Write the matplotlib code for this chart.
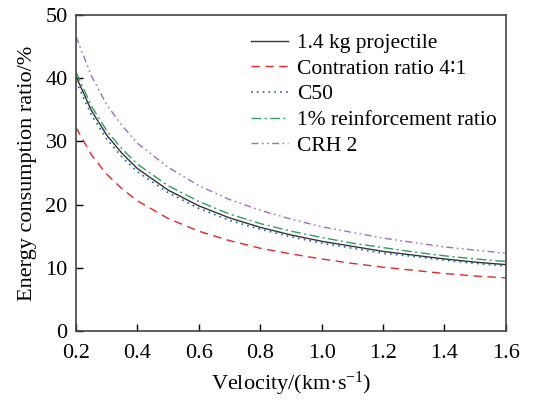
import matplotlib
matplotlib.use("Agg")
import matplotlib.pyplot as plt

plt.rcParams["font.family"] = ["Liberation Serif", "DejaVu Sans", "Noto Sans CJK SC"]
plt.rcParams["mathtext.fontset"] = "custom"
plt.rcParams["mathtext.rm"] = "Liberation Serif"
plt.rcParams["mathtext.it"] = "Liberation Serif:italic"

# velocity (km/s) and energy consumption ratio (%)
velocity = [0.2, 0.25, 0.3, 0.35, 0.4, 0.5, 0.6, 0.7, 0.8, 0.9,
            1.0, 1.1, 1.2, 1.3, 1.4, 1.5, 1.6]
base_14kg = [40.3, 34.9, 31.0, 28.1, 25.7, 22.3, 19.8, 17.9, 16.4, 15.2,
             14.2, 13.4, 12.6, 12.0, 11.4, 10.9, 10.5]
contraction_41 = [32.2, 27.9, 24.8, 22.5, 20.6, 17.8, 15.8, 14.3, 13.1, 12.2,
                  11.4, 10.7, 10.1, 9.6, 9.1, 8.7, 8.4]
c50 = [39.5, 34.2, 30.4, 27.5, 25.2, 21.9, 19.4, 17.5, 16.1, 14.9,
       13.9, 13.1, 12.3, 11.8, 11.2, 10.7, 10.3]
reinf_1pct = [41.0, 35.6, 31.7, 28.8, 26.4, 23.0, 20.5, 18.5, 17.0, 15.8,
              14.8, 13.9, 13.2, 12.5, 11.9, 11.4, 11.0]
crh2 = [46.6, 40.4, 35.8, 32.5, 29.7, 25.9, 23.0, 20.8, 19.1, 17.7,
        16.5, 15.6, 14.7, 14.0, 13.3, 12.8, 12.3]

labels = ["1.4 kg projectile", "Contration ratio 4\u22361", "C50",
          "1% reinforcement ratio", "CRH 2"]
x_ticks = [0.2, 0.4, 0.6, 0.8, 1.0, 1.2, 1.4, 1.6]
y_ticks = [0, 10, 20, 30, 40, 50]

fig = plt.figure(figsize=(5.33, 4.0), dpi=100)
ax = fig.add_axes([0.1426, 0.1725, 0.8064, 0.79])

ax.plot(velocity, base_14kg, color="#333333", lw=1.0, ls="-", label=labels[0])
ax.plot(velocity, contraction_41, color="#e8262a", lw=1.0, ls=(0, (6, 4)), label=labels[1])
ax.plot(velocity, c50, color="#1f5fbf", lw=1.2, ls=(0, (1, 2.5)), label=labels[2])
ax.plot(velocity, reinf_1pct, color="#2ca05a", lw=1.0, ls=(0, (7, 2.5, 1.5, 2.5)), label=labels[3])
ax.plot(velocity, crh2, color="#9b6fc0", lw=1.0, ls=(0, (5, 2.5, 1.2, 2.5, 1.2, 2.5)), label=labels[4])

ax.set_xlim(0.2, 1.6)
ax.set_ylim(0, 50)
ax.set_xticks(x_ticks)
ax.set_xticklabels([f"{t:.1f}" for t in x_ticks])
ax.set_yticks(y_ticks)
ax.tick_params(direction="in", length=5, width=1.0, labelsize=16,
               top=False, right=False)
ax.tick_params(axis="x", pad=9)
ax.tick_params(axis="y", pad=6)
for s in ax.spines.values():
    s.set_linewidth(1.2)
    s.set_color("#444444")

ax.set_xlabel("Velocity/(km\u00b7s$^{-1}$)", fontsize=16, labelpad=5)
ax.set_ylabel("Energy consumption ratio/%", fontsize=16, labelpad=6)

ax.legend(loc="upper right", frameon=False, fontsize=15.5, handlelength=1.75,
          labelspacing=0.26, handletextpad=0.42, borderaxespad=0.0,
          bbox_to_anchor=(1.0, 0.97))

fig.savefig("out.png", dpi=100)
